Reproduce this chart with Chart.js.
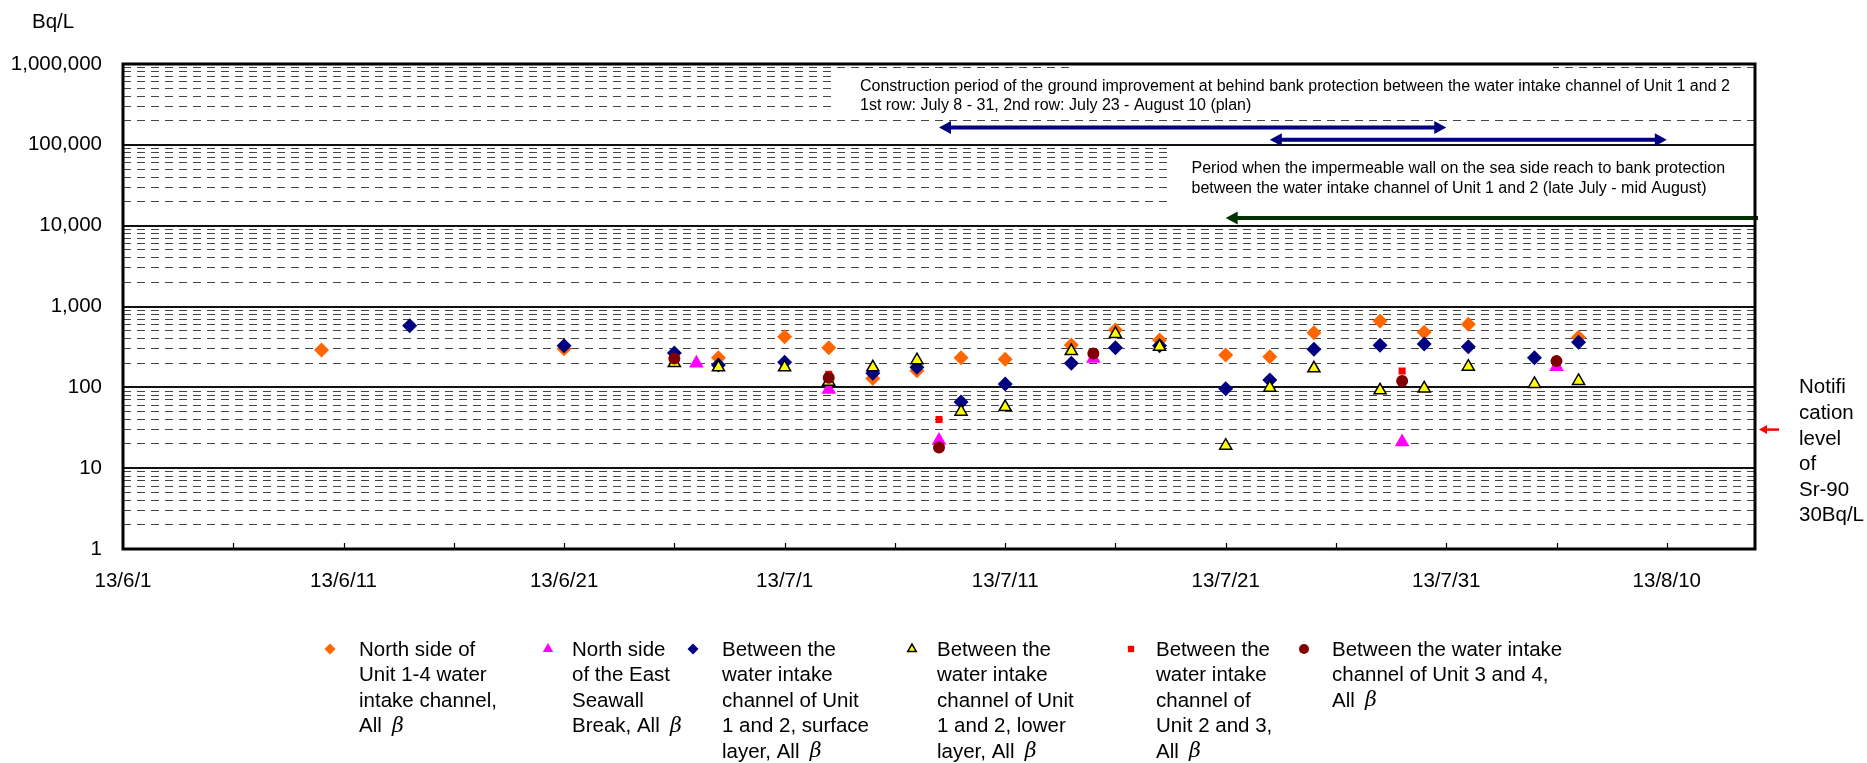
<!DOCTYPE html>
<html>
<head>
<meta charset="utf-8">
<script src="https://cdn.jsdelivr.net/npm/chart.js@4/dist/chart.umd.min.js"></script>
<style>html,body{margin:0;padding:0;background:#fff;}canvas{display:block;}</style>
</head>
<body>
<canvas id="c" width="1867" height="763"></canvas>
<script>
// ---------- DATA ----------
const xTickLabels = ['13/6/1','13/6/11','13/6/21','13/7/1','13/7/11','13/7/21','13/7/31','13/8/10'];
const yTickLabels = ['1','10','100','1,000','10,000','100,000','1,000,000'];

const northIntakeDates  = ['6/10','6/21','6/28','7/1','7/3','7/5','7/7','7/9','7/11','7/14','7/16','7/18','7/21','7/23','7/25','7/28','7/30','8/1','8/6'];
const northIntakeValues = [290,300,232,423,309,129,160,232,222,333,512,385,251,239,474,661,479,603,415];

const seawallDates  = ['6/27','7/3','7/8','7/15','7/29','8/5'];
const seawallValues = [198,94,22,228,21,180];

const u12SurfaceDates  = ['6/14','6/21','6/26','6/28','7/1','7/5','7/7','7/9','7/11','7/14','7/16','7/18','7/21','7/23','7/25','7/28','7/30','8/1','8/4','8/6'];
const u12SurfaceValues = [578,327,265,189,204,149,177,66,110,198,309,327,96,123,295,331,343,318,232,360];

const u12LowerDates  = ['6/26','6/28','7/1','7/3','7/5','7/7','7/9','7/11','7/14','7/16','7/18','7/21','7/23','7/25','7/28','7/30','8/1','8/4','8/6'];
const u12LowerValues = [200,177,177,117,177,217,50,57,281,457,318,19,99,172,92,97,180,110,120];

const u23Dates  = ['7/3','7/8','7/29'];
const u23Values = [145,40,159];

const u34Dates  = ['6/26','7/3','7/8','7/15','7/29','8/5'];
const u34Values = [228,131,18,263,120,211];

const seriesLines = [
  ['North side of','Unit 1-4 water','intake channel,','All β'],
  ['North side','of the East','Seawall','Break, All β'],
  ['Between the','water intake','channel of Unit','1 and 2, surface','layer, All β'],
  ['Between the','water intake','channel of Unit','1 and 2, lower','layer, All β'],
  ['Between the','water intake','channel of','Unit 2 and 3,','All β'],
  ['Between the water intake','channel of Unit 3 and 4,','All β']
];

const constructionPeriods = [['7/8','7/31'],['7/23','8/10']];
const wallPeriodStart = '7/21';
const notificationLevel = 30;
const note1Lines = ['Construction period of the ground improvement at behind bank protection between the water intake channel of Unit 1 and 2',
                    '1st row: July 8 - 31, 2nd row: July 23 - August 10 (plan)'];
const note2Lines = ['Period when the impermeable wall on the sea side reach to bank protection',
                    'between the water intake channel of Unit 1 and 2 (late July - mid August)'];
const notifLines = ['Notifi','cation','level','of','Sr-90','30Bq/L'];
const yTitle = 'Bq/L';

// ---------- HELPERS ----------
const FONT = '"Liberation Sans", Arial, sans-serif';
function dayOf(s){ const [m,d] = s.split('/').map(Number); return m===6 ? d-1 : (m===7 ? 29+d : 60+d); }
function pts(dates, vals){ return dates.map((d,i)=>({x: dayOf(d), y: vals[i]})); }

const datasets = [
  {label:'North side of Unit 1-4 water intake channel, All β', lines: seriesLines[0], data: pts(northIntakeDates, northIntakeValues),
   pointStyle:'rectRot', pointRadius:7.5, backgroundColor:'#FF6600', borderColor:'#FF6600', borderWidth:0, legendRadius:5.5, order:6},
  {label:'North side of the East Seawall Break, All β', lines: seriesLines[1], data: pts(seawallDates, seawallValues),
   pointStyle:'triangle', pointRadius:8.5, backgroundColor:'#FF00FF', borderColor:'#FF00FF', borderWidth:0, legendRadius:6, order:5},
  {label:'Between the water intake channel of Unit 1 and 2, surface layer, All β', lines: seriesLines[2], data: pts(u12SurfaceDates, u12SurfaceValues),
   pointStyle:'rectRot', pointRadius:7.5, backgroundColor:'#000080', borderColor:'#000080', borderWidth:0, legendRadius:5.5, order:4},
  {label:'Between the water intake channel of Unit 1 and 2, lower layer, All β', lines: seriesLines[3], data: pts(u12LowerDates, u12LowerValues),
   pointStyle:'triangle', pointRadius:7, backgroundColor:'#FFFF00', borderColor:'#000000', borderWidth:1.5, legendRadius:5, order:3},
  {label:'Between the water intake channel of Unit 2 and 3, All β', lines: seriesLines[4], data: pts(u23Dates, u23Values),
   pointStyle:'rect', pointRadius:5, backgroundColor:'#FF0000', borderColor:'#FF0000', borderWidth:0, legendRadius:4.5, order:2},
  {label:'Between the water intake channel of Unit 3 and 4, All β', lines: seriesLines[5], data: pts(u34Dates, u34Values),
   pointStyle:'circle', pointRadius:6, backgroundColor:'#800000', borderColor:'#800000', borderWidth:0, legendRadius:5, order:1}
];

function drawBetaText(ctx, text, x, y, size){
  const parts = text.split('β');
  let cx = x;
  parts.forEach((p, i) => {
    ctx.font = size + 'px ' + FONT;
    ctx.fillText(p, cx, y);
    cx += ctx.measureText(p).width;
    if (i < parts.length - 1) {
      cx += size*0.22;
      ctx.font = 'italic ' + size + 'px "DejaVu Serif", serif';
      ctx.fillText('β', cx, y);
      cx += ctx.measureText('β').width;
    }
  });
}

function arrowLine(ctx, x1, x2, y, color, headLeft, headRight, lw, hl, hh){
  ctx.save();
  ctx.strokeStyle = color; ctx.fillStyle = color; ctx.lineWidth = lw;
  ctx.beginPath();
  ctx.moveTo(headLeft ? x1 + hl - 1 : x1, y);
  ctx.lineTo(headRight ? x2 - hl + 1 : x2, y);
  ctx.stroke();
  if (headLeft) { ctx.beginPath(); ctx.moveTo(x1, y); ctx.lineTo(x1+hl, y-hh); ctx.lineTo(x1+hl, y+hh); ctx.closePath(); ctx.fill(); }
  if (headRight){ ctx.beginPath(); ctx.moveTo(x2, y); ctx.lineTo(x2-hl, y-hh); ctx.lineTo(x2-hl, y+hh); ctx.closePath(); ctx.fill(); }
  ctx.restore();
}

const isDecade = v => Math.abs(Math.log10(v) - Math.round(Math.log10(v))) < 1e-9;

// ---------- PLUGINS ----------
const overlayPlugin = {
  id: 'overlay',
  beforeDraw(chart){
    const ctx = chart.ctx;
    ctx.save(); ctx.fillStyle = '#fff'; ctx.fillRect(0,0,chart.width,chart.height); ctx.restore();
  },
  beforeDatasetsDraw(chart){
    const ctx = chart.ctx, a = chart.chartArea, xs = chart.scales.x, ys = chart.scales.y;
    ctx.save();
    // white boxes behind notes
    ctx.fillStyle = '#fff';
    ctx.fillRect(837, 70, a.right - 837 - 1, 46);
    ctx.fillRect(1070, 66.5, 1553 - 1070, 4);
    ctx.fillRect(1171, 147, a.right - 1171 - 1, 77.5);
    // note texts
    ctx.fillStyle = '#000'; ctx.textBaseline = 'middle'; ctx.textAlign = 'left';
    ctx.font = '16px ' + FONT;
    ctx.fillText(note1Lines[0], 860, 86.7);
    ctx.fillText(note1Lines[1], 860, 106);
    ctx.fillText(note2Lines[0], 1191.5, 168.3);
    ctx.fillText(note2Lines[1], 1191.5, 188.7);
    // arrows
    const rowY = [ys.getPixelForValue(164000), ys.getPixelForValue(115500)];
    constructionPeriods.forEach((p, i) => {
      arrowLine(ctx, xs.getPixelForValue(dayOf(p[0])), xs.getPixelForValue(dayOf(p[1])), rowY[i], '#000080', true, true, 4, 12, 6.5);
    });
    arrowLine(ctx, xs.getPixelForValue(dayOf(wallPeriodStart)), a.right + 3, ys.getPixelForValue(12470), '#003300', true, false, 4, 12, 6.5);
    // inward x ticks
    ctx.strokeStyle = '#000'; ctx.lineWidth = 1.2;
    for (let d = 5; d < 74; d += 5) {
      const x = Math.round(xs.getPixelForValue(d)) + 0.5;
      ctx.beginPath(); ctx.moveTo(x, a.bottom); ctx.lineTo(x, a.bottom - 6); ctx.stroke();
    }
    // frame
    ctx.lineWidth = 3; ctx.strokeStyle = '#000';
    ctx.strokeRect(a.left, a.top, a.right - a.left, a.bottom - a.top);
    ctx.restore();
  },
  afterDraw(chart){
    const ctx = chart.ctx, a = chart.chartArea, ys = chart.scales.y;
    ctx.save();
    ctx.fillStyle = '#000'; ctx.textBaseline = 'middle'; ctx.textAlign = 'left';
    ctx.font = '20.5px ' + FONT;
    ctx.fillText(yTitle, 32, 22.7);
    // notification level
    const ny = ys.getPixelForValue(notificationLevel);
    arrowLine(ctx, a.right + 4, a.right + 24, ny, '#FF0000', true, false, 2.5, 8, 4.5);
    ctx.fillStyle = '#000';
    notifLines.forEach((t, i) => ctx.fillText(t, 1799, 387.7 + i*25.6));
    // legend
    const cols = [[330,359],[548,572],[693,722],[912,937],[1131,1156],[1304,1332]];
    const top = 650, lh = 25.5;
    chart.data.datasets.forEach((ds, i) => {
      const [mx, tx] = cols[i];
      ctx.fillStyle = ds.backgroundColor; ctx.strokeStyle = ds.borderColor; ctx.lineWidth = ds.borderWidth;
      Chart.helpers.drawPoint(ctx, {pointStyle: ds.pointStyle, radius: ds.legendRadius, borderWidth: ds.borderWidth, rotation: 0}, mx, top - 1);
      ctx.fillStyle = '#000';
      ds.lines.forEach((ln, j) => drawBetaText(ctx, ln, tx, top + j*lh, 20.5));
    });
    ctx.restore();
  }
};

// ---------- CHART ----------
new Chart(document.getElementById('c').getContext('2d'), {
  type: 'scatter',
  data: { datasets },
  options: {
    responsive: false, animation: false, devicePixelRatio: 1,
    layout: { padding: { top: 64, right: 112, left: 0, bottom: 0 } },
    plugins: { legend: { display: false }, tooltip: { enabled: false } },
    elements: { point: { hoverRadius: 0 } },
    scales: {
      x: {
        type: 'linear', min: 0, max: 74,
        afterBuildTicks: s => { s.ticks = xTickLabels.map((_, i) => ({ value: i*10 })); },
        afterFit: s => { s.height = 214; },
        ticks: { autoSkip: false, maxRotation: 0, padding: 20, color: '#000', font: { family: FONT, size: 20.5 },
                 callback: v => xTickLabels[Math.round(v/10)] },
        grid: { display: true, drawOnChartArea: false, drawTicks: false },
        border: { display: false }
      },
      y: {
        type: 'logarithmic', min: 1, max: 1e6,
        afterBuildTicks: s => {
          const t = [];
          for (let e = 0; e < yTickLabels.length; e++) {
            for (let m = 1; m <= 9; m++) { const v = m * Math.pow(10, e); if (v <= 1e6) t.push({ value: v }); }
          }
          s.ticks = t;
        },
        afterFit: s => { s.width = 123; },
        ticks: { autoSkip: false, padding: 21, color: '#000', font: { family: FONT, size: 20.5 },
                 callback: v => isDecade(v) ? yTickLabels[Math.round(Math.log10(v))] : '' },
        grid: { drawTicks: false,
                color: c => (c.tick && isDecade(c.tick.value)) ? '#111' : '#444',
                lineWidth: c => (c.tick && isDecade(c.tick.value)) ? 2 : 1 },
        border: { display: false, dash: c => (c.tick && isDecade(c.tick.value)) ? [] : [8, 6] }
      }
    }
  },
  plugins: [overlayPlugin]
});
</script>
</body>
</html>
